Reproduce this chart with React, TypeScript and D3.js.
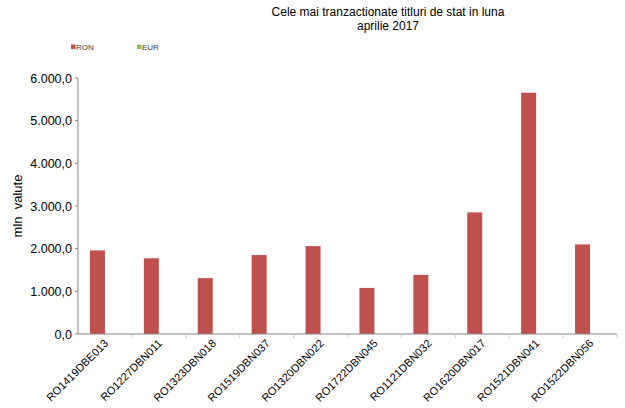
import React from "react";
import * as d3 from "d3";

const categories = [
  "RO1419DBE013",
  "RO1227DBN011",
  "RO1323DBN018",
  "RO1519DBN037",
  "RO1320DBN022",
  "RO1722DBN045",
  "RO1121DBN032",
  "RO1620DBN017",
  "RO1521DBN041",
  "RO1522DBN056",
];
const ronValues = [1960, 1775, 1310, 1850, 2060, 1080, 1385, 2850, 5655, 2100];
const eurValues = [0, 0, 0, 0, 0, 0, 0, 0, 0, 0];
const seriesNames = ["RON", "EUR"];
const seriesColors = ["#C0504D", "#9BBB59"];
const yTicks = [0, 1000, 2000, 3000, 4000, 5000, 6000];
const titleLines = ["Cele mai tranzactionate titluri de stat in luna", "aprilie 2017"];
const yAxisLabel = "mln  valute";

const W = 625;
const H = 408;
const M = { left: 78, right: 8, top: 78, bottom: 74 };

const fmt = (v: number) => {
  const s = d3.format(",.1f")(v);
  return s.replace(/,/g, "#").replace(".", ",").replace(/#/g, ".");
};

export default function App() {
  const x = d3
    .scaleBand<string>()
    .domain(categories)
    .range([M.left, W - M.right])
    .padding(0);
  const y = d3.scaleLinear().domain([0, 6000]).range([H - M.bottom, M.top]);
  const sub = d3
    .scaleBand<string>()
    .domain(seriesNames)
    .range([0, 30]);
  const groupOffset = (x.bandwidth() - 30) / 2;
  const series = [ronValues, eurValues];
  const font = "Arial, 'Liberation Sans', sans-serif";
  const axisColor = "#868686";

  return (
    <svg
      width={W}
      height={H}
      style={{ position: "absolute", left: 0, top: 0, background: "#fff" }}
      fontFamily={font}
    >
      {titleLines.map((t, i) => (
        <text key={i} x={388} y={16 + i * 14} textAnchor="middle" fontSize={12} fill="#000">
          {t}
        </text>
      ))}
      {seriesNames.map((n, i) => (
        <g key={n} transform={`translate(${71 + i * 66},0)`}>
          <rect x={0} y={44.5} width={4.5} height={4.5} fill={seriesColors[i]} />
          <text x={5} y={49.5} fontSize={8} fill="#404040">
            {n}
          </text>
        </g>
      ))}
      {/* y axis */}
      <line x1={M.left} x2={M.left} y1={y(6000)} y2={y(0)} stroke={axisColor} />
      {yTicks.map((t) => (
        <g key={t}>
          <line x1={M.left - 3} x2={M.left} y1={y(t)} y2={y(t)} stroke={axisColor} />
          <text x={M.left - 6} y={y(t) + 4.5} textAnchor="end" fontSize={12.5} fill="#000">
            {fmt(t)}
          </text>
        </g>
      ))}
      <text
        transform={`translate(21.5,${(y(0) + y(6000)) / 2}) rotate(-90)`}
        textAnchor="middle"
        fontSize={13}
        fill="#000"
        style={{ whiteSpace: "pre" }}
      >
        {yAxisLabel}
      </text>
      {/* bars */}
      {series.map((vals, si) =>
        vals.map((v, i) =>
          v > 0 ? (
            <rect
              key={`${si}-${i}`}
              x={(x(categories[i]) as number) + groupOffset + (sub(seriesNames[si]) as number)}
              y={y(v)}
              width={sub.bandwidth()}
              height={y(0) - y(v)}
              fill={seriesColors[si]}
            />
          ) : null
        )
      )}
      {/* x axis */}
      <line x1={M.left} x2={W - M.right} y1={y(0)} y2={y(0)} stroke={axisColor} />
      {categories.map((c) => (
        <line
          key={c}
          x1={(x(c) as number) + x.bandwidth()}
          x2={(x(c) as number) + x.bandwidth()}
          y1={y(0)}
          y2={y(0) + 4}
          stroke="#c8c8c8"
        />
      ))}
      {categories.map((c) => {
        const cx = (x(c) as number) + x.bandwidth() / 2;
        return (
          <text
            key={c}
            transform={`translate(${cx + 4},${y(0) + 10}) rotate(-45)`}
            textAnchor="end"
            fontSize={11}
            fill="#000"
          >
            {c}
          </text>
        );
      })}
    </svg>
  );
}
